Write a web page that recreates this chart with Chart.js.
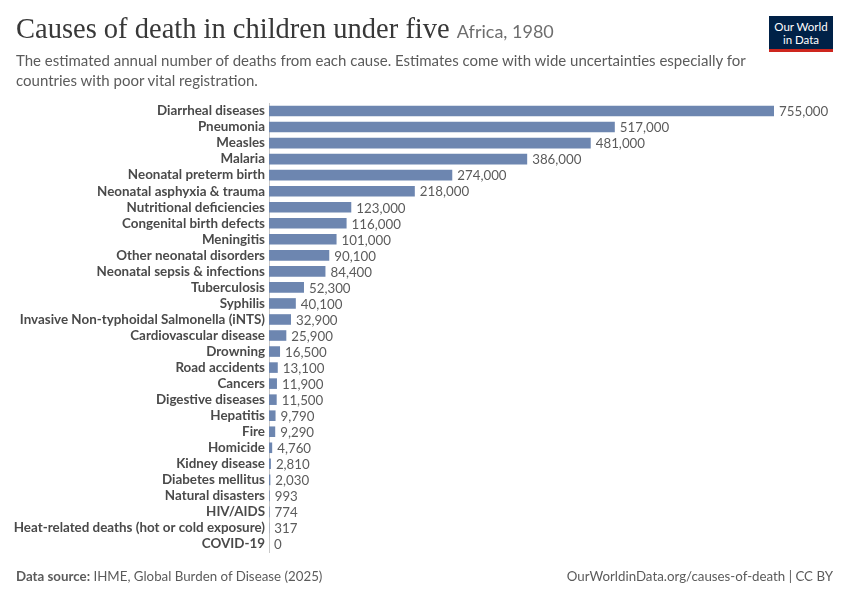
<html>
<head>
<style>
  body { margin: 0; background: #fff; font-family: Lato, "Noto Sans", sans-serif; }
  #wrap { position: relative; width: 850px; height: 600px; overflow: hidden; }
  #chart { position: absolute; left: 0; top: 0; }
  .title { position: absolute; left: 16px; top: 13px; font-family: "Liberation Serif", "DejaVu Serif", serif; font-size: 28.5px; color: #383838; white-space: nowrap; }
  .title span { font-family: Lato, sans-serif; font-size: 18px; color: #6e6e6e; }
  .sub { position: absolute; left: 16px; top: 51px; width: 760px; font-size: 15px; line-height: 19.5px; color: #5b5b5b; }
  .logo { position: absolute; left: 769px; top: 16px; width: 64px; background: #002147; border-bottom: 3px solid #ce261e; color: #fff; font-size: 11.5px; line-height: 13px; text-align: center; padding-top: 4px; height: 29px; }
  .foot { position: absolute; top: 568px; font-size: 13.3px; color: #5b5b5b; }
</style>
</head>
<body>
<div id="wrap">
  <canvas id="chart" width="850" height="600"></canvas>
  <div class="title">Causes of death in children under five <span>Africa, 1980</span></div>
  <div class="sub">The estimated annual number of deaths from each cause. Estimates come with wide uncertainties especially for countries with poor vital registration.</div>
  <div class="logo">Our World<br>in Data</div>
  <div class="foot" style="left:16px"><b>Data source:</b> IHME, Global Burden of Disease (2025)</div>
  <div class="foot" style="right:17px">OurWorldinData.org/causes-of-death | CC BY</div>
</div>
<script src="https://cdn.jsdelivr.net/npm/chart.js"></script>
<script>
  const causes = [
    "Diarrheal diseases", "Pneumonia", "Measles", "Malaria", "Neonatal preterm birth",
    "Neonatal asphyxia & trauma", "Nutritional deficiencies", "Congenital birth defects",
    "Meningitis", "Other neonatal disorders", "Neonatal sepsis & infections", "Tuberculosis",
    "Syphilis", "Invasive Non-typhoidal Salmonella (iNTS)", "Cardiovascular disease",
    "Drowning", "Road accidents", "Cancers", "Digestive diseases", "Hepatitis", "Fire",
    "Homicide", "Kidney disease", "Diabetes mellitus", "Natural disasters", "HIV/AIDS",
    "Heat-related deaths (hot or cold exposure)", "COVID-19"
  ];
  const deaths = [
    755000, 517000, 481000, 386000, 274000, 218000, 123000, 116000, 101000, 90100,
    84400, 52300, 40100, 32900, 25900, 16500, 13100, 11900, 11500, 9790, 9290,
    4760, 2810, 2030, 993, 774, 317, 0
  ];

  const valueLabels = {
    id: 'valueLabels',
    afterDatasetsDraw(chart) {
      const ctx = chart.ctx;
      const meta = chart.getDatasetMeta(0);
      ctx.save();
      ctx.font = '13.3px Lato, sans-serif';
      ctx.fillStyle = '#5b5b5b';
      ctx.textBaseline = 'middle';
      meta.data.forEach((bar, i) => {
        ctx.fillText(deaths[i].toLocaleString('en-US'), bar.x + 5, bar.y + 1);
      });
      ctx.restore();
    }
  };

  new Chart(document.getElementById('chart').getContext('2d'), {
    type: 'bar',
    data: {
      labels: causes,
      datasets: [{
        data: deaths,
        backgroundColor: '#6d86b0',
        categoryPercentage: 1,
        barPercentage: 0.66
      }]
    },
    options: {
      indexAxis: 'y',
      responsive: false,
      animation: false,
      layout: { padding: { top: 103, bottom: 48, right: 76, left: 0 } },
      plugins: { legend: { display: false }, tooltip: { enabled: false } },
      scales: {
        x: { display: false, min: 0, max: 755000 },
        y: {
          afterFit(scale) { scale.width = 269; },
          grid: { display: false, drawTicks: false },
          border: { color: '#c8c8c8' },
          ticks: {
            autoSkip: false,
            padding: 4,
            color: '#4a4a4a',
            font: { family: 'Lato', size: 13.4, weight: 'bold' }
          }
        }
      }
    },
    plugins: [valueLabels]
  });
</script>
</body>
</html>
